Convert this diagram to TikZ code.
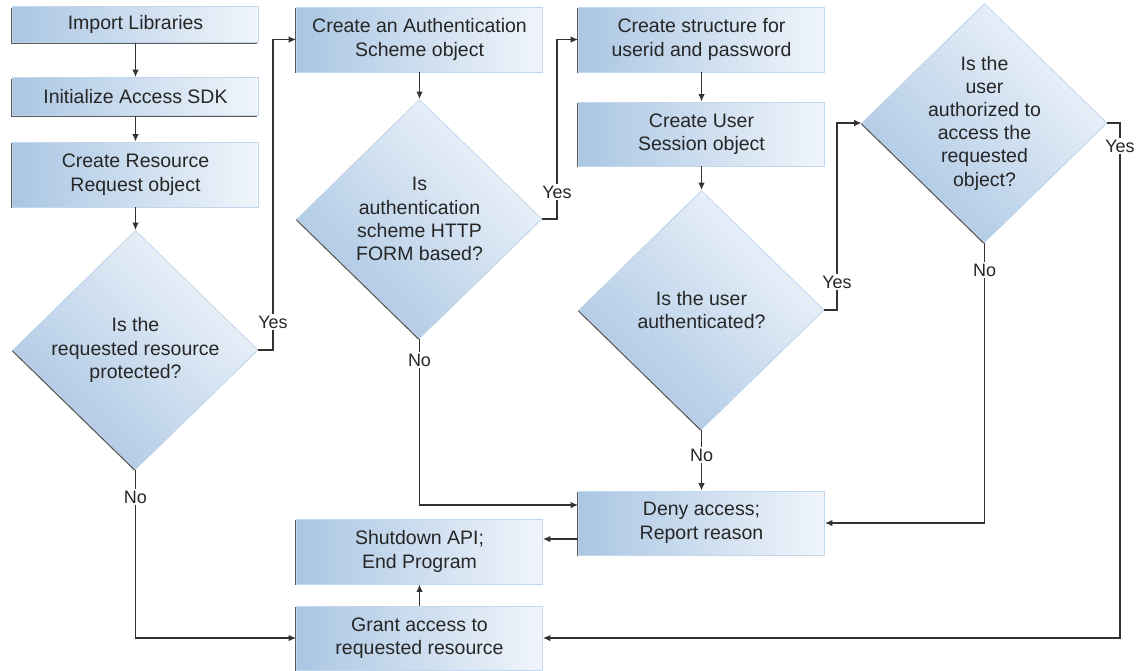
\documentclass[tikz,border=0pt]{standalone}
\usepackage{fontspec}
\setmainfont{Liberation Sans}
\usetikzlibrary{shapes.geometric,arrows.meta,shadows}
\definecolor{boxblue}{HTML}{AAC6E3}
\definecolor{boxlight}{HTML}{F0F5FB}
\definecolor{boxedge}{HTML}{C2D6EC}
\definecolor{linegray}{HTML}{333333}
\tikzset{
	process/.style={rectangle, draw=boxedge, line width=0.8pt, left color=boxblue, right color=boxlight,
		minimum width=246pt, inner sep=0pt, align=center, text=black!85,
		font=\fontsize{19.5}{23.5}\selectfont,
		general shadow={shadow xshift=-1.2pt, shadow yshift=-1.2pt, fill=black!65}},
	decision/.style={diamond, draw=boxedge, line width=0.8pt, top color=boxlight, bottom color=boxblue, shading angle=-45,
		minimum width=245pt, minimum height=239pt, inner sep=-4pt, align=center, text=black!85,
		font=\fontsize{19.5}{23.2}\selectfont,
		general shadow={shadow xshift=-1.2pt, shadow yshift=-1.2pt, fill=black!65}},
	answer/.style={inner sep=1.5pt, text=black!85, font=\fontsize{18}{20}\selectfont},
	flow/.style={draw=linegray, line width=1.3pt, -{Latex[length=7.5pt,width=6.5pt]}},
	link/.style={draw=linegray, line width=1.3pt}
}
\begin{document}
\begin{tikzpicture}[x=1pt, y=-1pt]
	\useasboundingbox (0,0) rectangle (1142,670);
	% Boxes and decisions:
	\node[process, minimum height=36pt] (import) at (135.5,24.5) {Import Libraries};
	\node[process, minimum height=38pt] (init) at (135.5,96.5) {Initialize Access SDK};
	\node[process, minimum height=65pt] (resreq) at (135.5,174.5) {Create Resource\\Request object};
	\node[decision] (protected) at (135.5,350) {Is the\\requested resource\\protected?};
	\node[process, minimum height=65pt] (authscheme) at (419.5,39.5) {Create an Authentication\\Scheme object};
	\node[decision] (formbased) at (419.5,219) {Is\\authentication\\scheme HTTP\\FORM based?};
	\node[process, minimum height=65pt] (userid) at (701.5,39.5) {Create structure for\\userid and password};
	\node[process, minimum height=64pt] (session) at (701.5,134) {Create User\\Session object};
	\node[decision] (authn) at (701.5,310) {Is the user\\authenticated?};
	\node[decision] (authz) at (984.5,123) {Is the\\user\\authorized to\\access the\\requested\\object?};
	\node[process, minimum height=64pt] (deny) at (701.5,523) {Deny access;\\Report reason};
	\node[process, minimum height=65pt] (shutdown) at (419.5,551.5) {Shutdown API;\\End Program};
	\node[process, minimum height=64pt] (grant) at (419.5,638) {Grant access to\\requested resource};
	% Yes / No labels:
	\node[answer] (yes1) at (273,322) {Yes};
	\node[answer] (no1) at (135.5,497) {No};
	\node[answer] (yes2) at (557,192) {Yes};
	\node[answer] (no2) at (419.5,360) {No};
	\node[answer] (yes3) at (837,282) {Yes};
	\node[answer] (no3) at (701.5,455) {No};
	\node[answer] (yes4) at (1120,146) {Yes};
	\node[answer] (no4) at (984.5,270) {No};
	\coordinate (denyin) at ([yshift=18pt]deny.west);
	\coordinate (denyout) at ([yshift=-16pt]deny.west);
	% Connectors:
	\draw[flow] (import) -- (init);
	\draw[flow] (init) -- (resreq);
	\draw[flow] (resreq) -- (protected);
	\draw[link] (protected.east) -| (yes1.south);
	\draw[flow] (yes1.north) |- (authscheme.west);
	\draw[link] (protected.south) -- (no1.north);
	\draw[flow] (no1.south) |- (grant.west);
	\draw[flow] (authscheme) -- (formbased);
	\draw[link] (formbased.east) -| (yes2.south);
	\draw[flow] (yes2.north) |- (userid.west);
	\draw[link] (formbased.south) -- (no2.north);
	\draw[flow] (no2.south) |- (denyin);
	\draw[flow] (userid) -- (session);
	\draw[flow] (session) -- (authn);
	\draw[link] (authn.east) -| (yes3.south);
	\draw[flow] (yes3.north) |- (authz.west);
	\draw[link] (authn.south) -- (no3.north);
	\draw[flow] (no3.south) -- (deny.north);
	\draw[link] (authz.east) -| (yes4.north);
	\draw[flow] (yes4.south) |- (grant.east);
	\draw[link] (authz.south) -- (no4.north);
	\draw[flow] (no4.south) |- (deny.east);
	\draw[flow] (denyout) -- (denyout -| shutdown.east);
	\draw[flow] (grant) -- (shutdown);
\end{tikzpicture}
\end{document}
